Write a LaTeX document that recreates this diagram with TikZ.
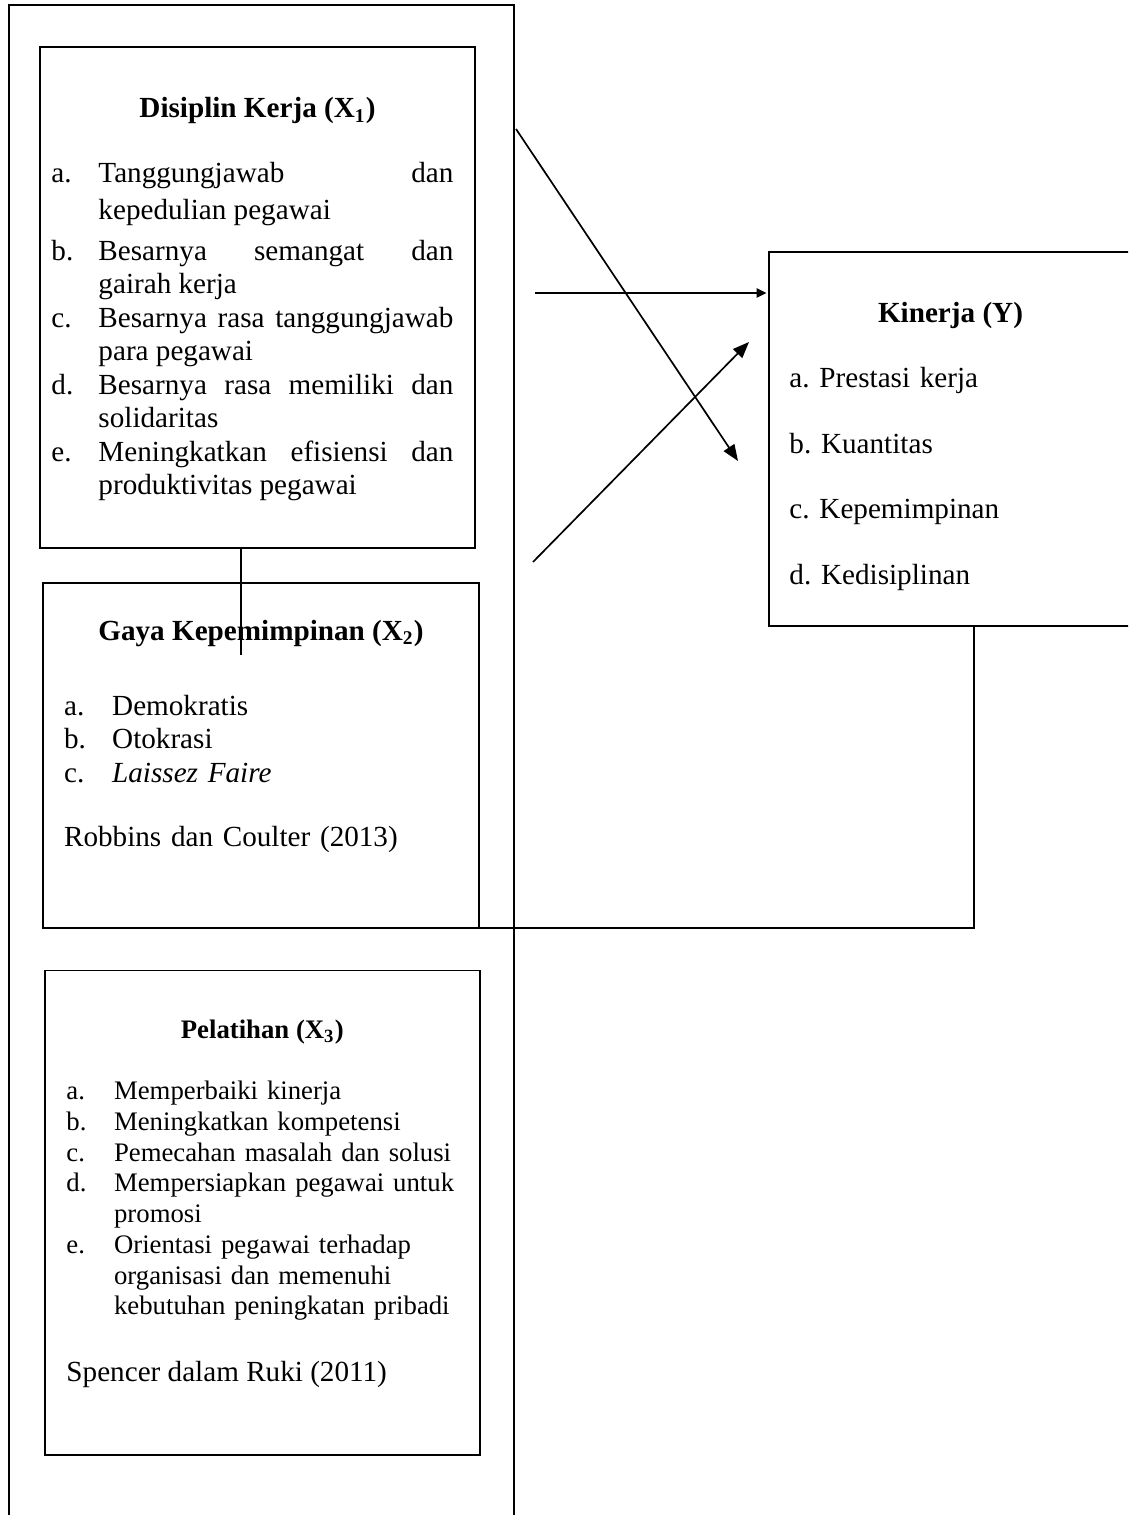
\documentclass[tikz,border=0pt]{standalone}
\usepackage{fontspec}
\setmainfont{Liberation Serif}
\usetikzlibrary{arrows.meta,positioning}
\hyphenpenalty=10000
\exhyphenpenalty=10000
\frenchspacing
\newcommand{\teksbiasa}{\fontsize{12}{13.8}\selectfont\spaceskip=3pt plus 20pt\relax}
\newcommand{\tekskecil}{\fontsize{11}{12.65}\selectfont}
\newcommand{\butir}[3]{\hangindent=#1\hangafter=1\noindent\makebox[#1][l]{#2}#3\par}
\tikzset{
  kotak/.style={draw, line width=0.8pt, inner sep=0pt, outer sep=0pt},
  judul/.style={font=\teksbiasa\bfseries, inner sep=0pt, anchor=base},
  judulkecil/.style={judul, font=\tekskecil\bfseries},
  daftar/.style={font=\teksbiasa, inner sep=0pt, anchor=base west, align=left},
  garis/.style={line width=0.7pt},
  panah/.style={garis, -{Triangle[length=6.7pt,width=5.2pt]}},
  panahkecil/.style={garis, -{Triangle[length=4.1pt,width=3.8pt]}},
}
\begin{document}
\begin{tikzpicture}[x=0.4115pt, y=-0.4115pt]
\clip (0,0) rectangle (1128,1515);

% ---- bingkai variabel bebas ----
\node[kotak, minimum width=207.8pt, minimum height=633.7pt] (kerangka) at (261.5,775) {};

% ---- X1 ----
\node[kotak, minimum width=179pt, minimum height=206.2pt] (disiplin) at (257.5,297.5) {};
\node[judul] (disiplinjudul) at (257.5,118) {Disiplin Kerja (X\textsubscript{1})};
\node[daftar, align=justify, text width=165.4pt] (disiplinisi) at (51,183) {
  {\baselineskip=15.2pt
   \butir{19.34pt}{a.}{Tanggungjawab dan\linebreak kepedulian pegawai}}
  \vspace{2.7pt}
  \butir{19.34pt}{b.}{Besarnya semangat dan\linebreak gairah kerja}
  \butir{19.34pt}{c.}{Besarnya rasa tanggungjawab\linebreak para pegawai}
  \butir{19.34pt}{d.}{Besarnya rasa memiliki dan\linebreak solidaritas}
  \butir{19.34pt}{e.}{Meningkatkan efisiensi dan\linebreak produktivitas pegawai}
};

% ---- X2 ----
\node[kotak, minimum width=179.4pt, minimum height=142pt] (gaya) at (261,755.5) {};
\node[judul] (gayajudul) at (261,640) {Gaya Kepemimpinan (X\textsubscript{2})};
\node[daftar, text width=156.4pt] (gayaisi) at (63.6,715) {
  \butir{19.8pt}{a.}{Demokratis}
  \butir{19.8pt}{b.}{Otokrasi}
  \butir{19.8pt}{c.}{\textit{Laissez Faire}}
  \vspace{12.9pt}
  \noindent Robbins dan Coulter (2013)\par
};

% ---- X3 ----
\node[kotak, minimum width=179.2pt, minimum height=199.4pt] (pelatihan) at (262.3,1212.75) {};
\node[judulkecil] (pelatihanjudul) at (262.3,1038) {Pelatihan (X\textsubscript{3})};
\node[daftar, font=\tekskecil, text width=170pt] (pelatihanisi) at (66,1099.7) {
  \butir{19.6pt}{a.}{Memperbaiki kinerja}
  \butir{19.6pt}{b.}{Meningkatkan kompetensi}
  \butir{19.6pt}{c.}{Pemecahan masalah dan solusi}
  \butir{19.6pt}{d.}{Mempersiapkan pegawai untuk\newline promosi}
  \butir{19.6pt}{e.}{Orientasi pegawai terhadap\newline organisasi dan memenuhi\newline kebutuhan peningkatan pribadi}
  \vspace{13.8pt}
  {\teksbiasa\noindent Spencer dalam Ruki (2011)\par}
};

% ---- Y ----
\node[kotak, minimum width=149.4pt, minimum height=153.9pt] (kinerja) at (950.5,439) {};
\node[judul] (kinerjajudul) at (950.5,323) {Kinerja (Y)};
\node[daftar, font=\fontsize{12}{27}\selectfont, text width=140pt] (kinerjaisi) at (789,387.5) {
  a. Prestasi kerja\\
  b. Kuantitas\\
  c. Kepemimpinan\\
  d. Kedisiplinan
};

% ---- garis ----
\coordinate (ujungX) at (241,655);
\draw[garis] (disiplin.south -| ujungX) -- (ujungX);
\coordinate (ujungY) at (974,626);
\draw[garis] (gaya.south east) -| (ujungY);

% ---- panah ----
\coordinate (awal1) at (516,129);
\coordinate (akhir1) at (738,461);
\draw[panah] (awal1) -- (akhir1);
\coordinate (awal2) at (535,293);
\draw[panahkecil, shorten >=1pt] (awal2) -- (awal2 -| kinerja.west);
\coordinate (awal3) at (533,562);
\coordinate (akhir3) at (749,342);
\draw[panah] (awal3) -- (akhir3);

\end{tikzpicture}
\end{document}
